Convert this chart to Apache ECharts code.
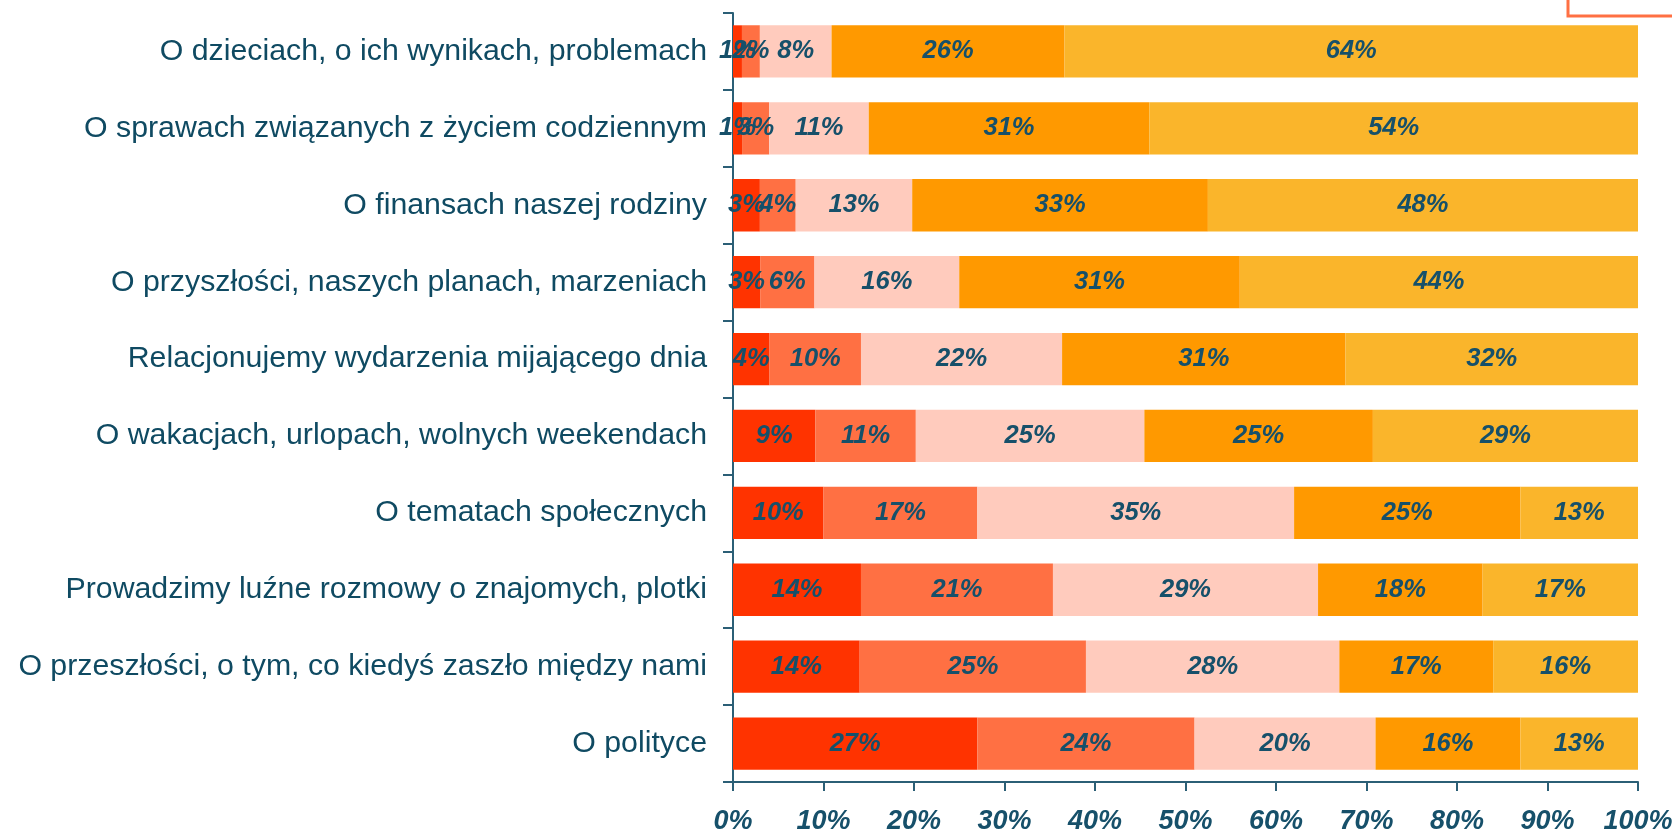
<!DOCTYPE html>
<html>
<head>
<meta charset="utf-8">
<script src="https://cdn.jsdelivr.net/npm/echarts@6/dist/echarts.min.js"></script>
<style>
html,body{margin:0;padding:0;background:#fff;}
#chart{width:1672px;height:832px;}
</style>
</head>
<body>
<div id="chart"></div>
<script>
const categories = [
  "O dzieciach, o ich wynikach, problemach",
  "O sprawach związanych z życiem codziennym",
  "O finansach naszej rodziny",
  "O przyszłości, naszych planach, marzeniach",
  "Relacjonujemy wydarzenia mijającego dnia",
  "O wakacjach, urlopach, wolnych weekendach",
  "O tematach społecznych",
  "Prowadzimy luźne rozmowy o znajomych, plotki",
  "O przeszłości, o tym, co kiedyś zaszło między nami",
  "O polityce"
];
// percentage labels, one array per segment (left to right)
const seg1 = [1, 1, 3, 3, 4, 9, 10, 14, 14, 27];
const seg2 = [2, 3, 4, 6, 10, 11, 17, 21, 25, 24];
const seg3 = [8, 11, 13, 16, 22, 25, 35, 29, 28, 20];
const seg4 = [26, 31, 33, 31, 31, 25, 25, 18, 17, 16];
const seg5 = [64, 54, 48, 44, 32, 29, 13, 17, 16, 13];
const xTicks = ["0%","10%","20%","30%","40%","50%","60%","70%","80%","90%","100%"];

const segs = [seg1, seg2, seg3, seg4, seg5];
const colors = ["#FF3300", "#FF7043", "#FFCBBD", "#FF9900", "#FAB52B"];
const textColor = "#16506A";
const rowSums = categories.map((c, i) => segs.reduce((s, a) => s + a[i], 0));

const series = segs.map((arr, k) => ({
  type: "bar",
  stack: "total",
  barCategoryGap: "32%",
  itemStyle: { color: colors[k] },
  data: arr.map((v, i) => ({ value: v / rowSums[i] * 100, raw: v })),
  label: {
    show: true,
    position: "inside",
    color: textColor,
    fontFamily: "Liberation Sans, Arial, sans-serif",
    fontSize: 25.5,
    fontWeight: "bold",
    fontStyle: "italic",
    formatter: p => p.data.raw + "%"
  },
  emphasis: { disabled: true },
  animation: false
}));

const chart = echarts.init(document.getElementById("chart"));
chart.setOption({
  animation: false,
  grid: { left: 733, right: 34, top: 13, bottom: 50, containLabel: false, outerBoundsMode: "none" },
  xAxis: {
    type: "value",
    min: 0, max: 100, interval: 10,
    axisLine: { show: true, lineStyle: { color: "#2B5F76", width: 2 } },
    axisTick: { show: true, length: 9, lineStyle: { color: "#2B5F76", width: 2 } },
    splitLine: { show: false },
    axisLabel: {
      margin: 26,
      color: textColor,
      fontFamily: "Liberation Sans, Arial, sans-serif",
      fontSize: 27,
      fontWeight: "bold",
      fontStyle: "italic",
      formatter: v => xTicks[Math.round(v / 10)]
    }
  },
  yAxis: {
    type: "category",
    inverse: true,
    data: categories,
    axisLine: { show: true, lineStyle: { color: "#2B5F76", width: 2 } },
    axisTick: { show: true, length: 10, lineStyle: { color: "#2B5F76", width: 2 } },
    axisLabel: {
      margin: 26,
      color: "#0F4A62",
      fontFamily: "Liberation Sans, Arial, sans-serif",
      fontSize: 30.3
    }
  },
  graphic: [{
    type: "rect",
    shape: { x: 1568, y: -30, width: 200, height: 46 },
    style: { fill: "none", stroke: "#FF7043", lineWidth: 3 },
    silent: true
  }],
  series: series
});
</script>
</body>
</html>
